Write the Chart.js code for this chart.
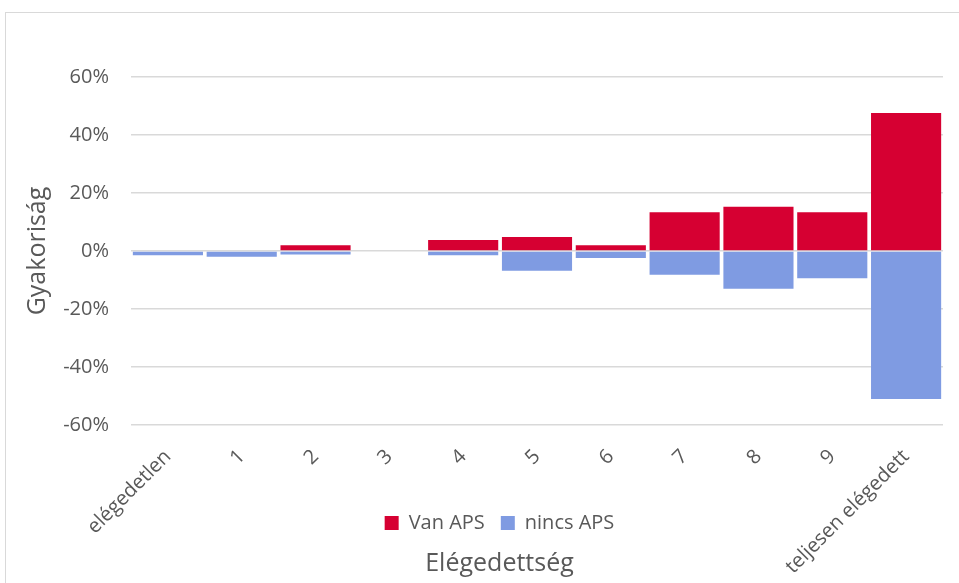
<!DOCTYPE html>
<html>
<head>
<meta charset="utf-8">
<script src="https://cdn.jsdelivr.net/npm/chart.js@4"></script>
<style>
  html, body { margin: 0; padding: 0; background: #fff; overflow: hidden; }
  #frame { position: absolute; left: 5px; top: 12px; width: 1000px; height: 640px; border: 1px solid #d9d9d9; }
  #chart { position: absolute; left: 0; top: 0; }
</style>
</head>
<body>
<div id="frame"></div>
<canvas id="chart" width="959" height="583"></canvas>
<script>
// Satisfaction categories and the share (%) for each group
const categories = ["elégedetlen", "1", "2", "3", "4", "5", "6", "7", "8", "9", "teljesen elégedett"];
const vanAPS = [0, 0, 2, 0, 3.8, 4.8, 2, 13.4, 15.3, 13.4, 47.6];
const nincsAPS = [-1.5, -2, -1.2, 0, -1.5, -6.8, -2.4, -8.2, -13, -9.4, -51];
const yTicks = [-60, -40, -20, 0, 20, 40, 60];

const textColor = "#595959";
const fontFamily = "'Open Sans', 'Noto Sans', sans-serif";

// the x labels run down into the legend row, so don't clip them to the axis box
const unclipXLabels = {
    id: "unclipXLabels",
    afterLayout: function (chart) {
        chart.scales.x.bottom = chart.height;
    },
};

new Chart(document.getElementById("chart"), {
    type: "bar",
    data: {
        labels: categories,
        datasets: [
            { label: "Van APS", data: vanAPS, backgroundColor: "#d60032", barPercentage: 0.95, categoryPercentage: 1 },
            { label: "nincs APS", data: nincsAPS, backgroundColor: "#7f9be2", barPercentage: 0.95, categoryPercentage: 1 },
        ],
    },
    plugins: [unclipXLabels],
    options: {
        responsive: false,
        animation: false,
        layout: { padding: { top: 77, left: 56, right: 16, bottom: 0 } },
        plugins: {
            tooltip: { enabled: false },
            legend: {
                position: "bottom",
                labels: {
                    boxWidth: 14,
                    boxHeight: 14,
                    padding: 16,
                    color: textColor,
                    font: { family: fontFamily, size: 20 },
                },
            },
            title: {
                display: true,
                position: "bottom",
                text: "Elégedettség",
                color: textColor,
                font: { family: fontFamily, size: 25, weight: "normal" },
                padding: { top: 6, bottom: 4 },
            },
        },
        scales: {
            x: {
                stacked: true,
                grid: { display: false },
                border: { display: false },
                ticks: {
                    minRotation: 45,
                    maxRotation: 45,
                    padding: 12,
                    color: textColor,
                    font: { family: fontFamily, size: 20 },
                },
                afterFit: function (scale) { scale.height = 72; },
            },
            y: {
                stacked: true,
                min: yTicks[0],
                max: yTicks[yTicks.length - 1],
                afterBuildTicks: function (scale) {
                    scale.ticks = yTicks.map(function (v) { return { value: v }; });
                },
                grid: { color: "#d9d9d9", lineWidth: 1.5, drawTicks: false },
                border: { display: false },
                ticks: {
                    padding: 22,
                    color: textColor,
                    font: { family: fontFamily, size: 20 },
                    callback: function (v) { return v + "%"; },
                },
                title: {
                    display: true,
                    text: "Gyakoriság",
                    color: textColor,
                    font: { family: fontFamily, size: 25 },
                    padding: { top: -33, bottom: 0 },
                },
                afterFit: function (scale) { scale.width = 75; },
            },
        },
    },
});
</script>
</body>
</html>
